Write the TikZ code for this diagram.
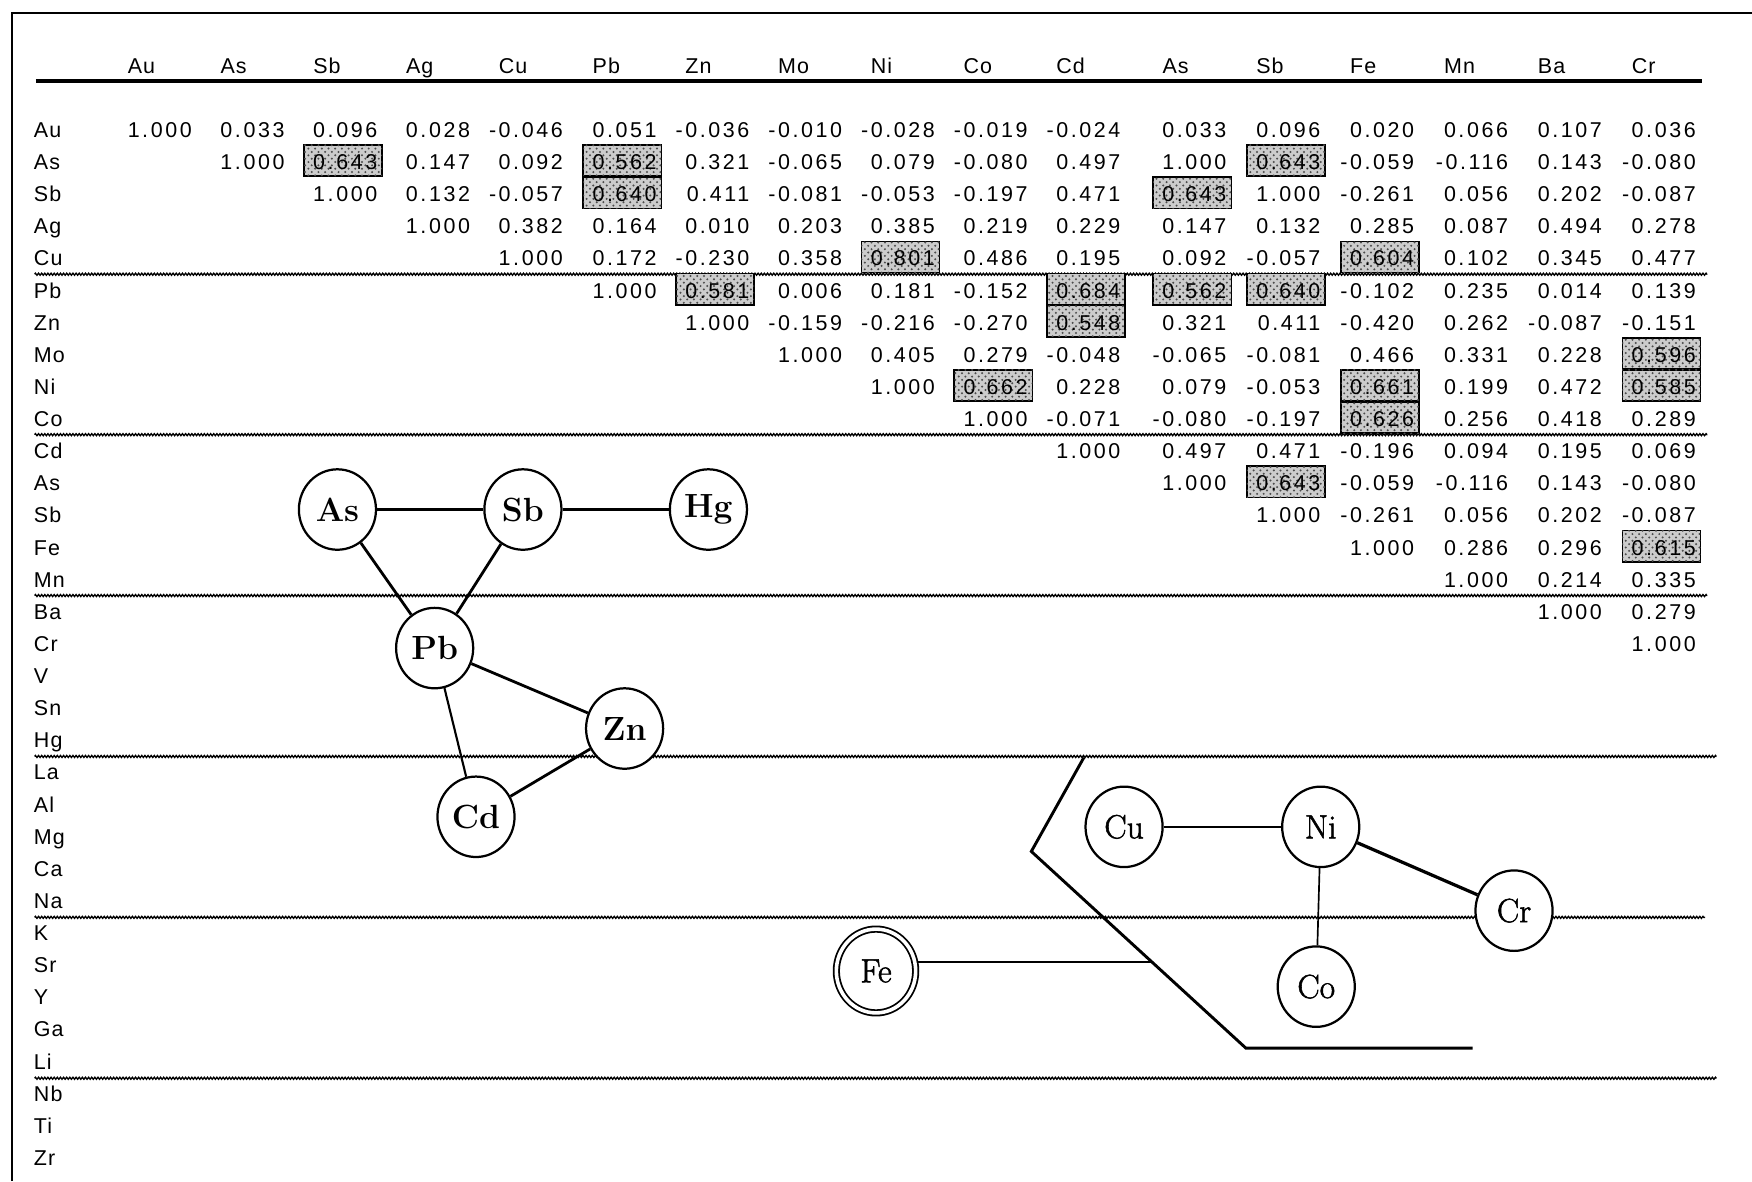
\documentclass[tikz,border=0pt]{standalone}
\usepackage{fontspec}
\usetikzlibrary{shapes.geometric,decorations.pathmorphing,patterns}
\newfontfamily\tabfont[LetterSpace=12]{Liberation Sans}
\newfontfamily\labfont[LetterSpace=5]{Liberation Sans}
\newfontfamily\medserif[FakeBold=1.6]{Latin Modern Roman}
\begin{document}
\begin{tikzpicture}[x=0.5pt,y=-0.5pt,
  num/.style={font=\tabfont\fontsize{9.6}{11}\selectfont, inner sep=0pt, anchor=base east},
  lbl/.style={font=\labfont\fontsize{9.6}{11}\selectfont, inner sep=0pt, anchor=base west},
  hlbox/.style={draw, line width=0.7pt, fill=gray!40, postaction={pattern=crosshatch dots, pattern color=black!70}, minimum width=35pt, minimum height=14pt, inner sep=0pt},
  wavy/.style={line width=0.6pt, decorate, decoration={zigzag, segment length=1.4pt, amplitude=0.45pt}},
  el/.style={draw, ellipse, line width=1pt, minimum width=34.5pt, minimum height=36pt, inner sep=0pt, fill=white},
  elb/.style={el, font=\bfseries\fontsize{15}{15}\selectfont},
  elr/.style={el, font=\medserif\fontsize{15}{15}\selectfont},
  fenode/.style={draw, ellipse, double, double distance=1.6pt, line width=0.8pt, minimum width=35.5pt, minimum height=37.5pt, inner sep=0pt, fill=white, font=\medserif\fontsize{15}{15}\selectfont},
  lk/.style={line width=1.25pt},
  lkm/.style={line width=0.95pt},
  lkt/.style={line width=0.75pt},
  lkx/.style={line width=1.45pt}
]
\useasboundingbox (0,0) rectangle (1568,1057);

% frame and header rule
\draw[line width=0.9pt] (10.5,1057) -- (10.5,11.5) -- (1568,11.5);
\draw[line width=1.8pt] (32,72.5) -- (1523,72.5);

% header labels
\foreach \h [count=\k from 0] in {Au,As,Sb,Ag,Cu,Pb,Zn,Mo,Ni,Co,Cd,As,Sb,Fe,Mn,Ba,Cr}{
  \pgfmathsetmacro\xr{{172,255,338,421,504,588,671,754,837,920,1003,1098,1182,1266,1350,1434,1518}[\k]}
  \node[lbl] (h-\k) at (\xr-58,66) {\h};
}

% row labels
\foreach \l [count=\r from 0] in {Au,As,Sb,Ag,Cu,Pb,Zn,Mo,Ni,Co,Cd,As,Sb,Fe,Mn,Ba,Cr,V,Sn,Hg,La,Al,Mg,Ca,Na,K,Sr,Y,Ga,Li,Nb,Ti,Zr}{
  \node[lbl] (r-\r) at (30,{116+28.75*\r+7}) {\l};
}

% wavy separators
\foreach \yy/\xe in {245.4/1528,389/1528,533/1528,677/1536,821/1526,965/1536}{
  \draw[wavy] (31,\yy) -- (\xe,\yy);
}

% highlighted cells
\foreach \r/\k in {1/2,1/5,2/5,4/8,4/13,5/6,5/10,5/11,5/12,6/10,7/16,8/9,8/13,8/16,9/13,2/11,1/12,11/12,13/16}{
  \pgfmathsetmacro\xr{{172,255,338,421,504,588,671,754,837,920,1003,1098,1182,1266,1350,1434,1518}[\k]}
  \node[hlbox] (b-\r-\k) at (\xr-31,{116+28.75*\r-1}) {};
}

% table values
\foreach \r/\s/\vals in {
 0/0/{1.000,0.033,0.096,0.028,-0.046,0.051,-0.036,-0.010,-0.028,-0.019,-0.024,0.033,0.096,0.020,0.066,0.107,0.036},
 1/1/{1.000,0.643,0.147,0.092,0.562,0.321,-0.065,0.079,-0.080,0.497,1.000,0.643,-0.059,-0.116,0.143,-0.080},
 2/2/{1.000,0.132,-0.057,0.640,0.411,-0.081,-0.053,-0.197,0.471,0.643,1.000,-0.261,0.056,0.202,-0.087},
 3/3/{1.000,0.382,0.164,0.010,0.203,0.385,0.219,0.229,0.147,0.132,0.285,0.087,0.494,0.278},
 4/4/{1.000,0.172,-0.230,0.358,0.801,0.486,0.195,0.092,-0.057,0.604,0.102,0.345,0.477},
 5/5/{1.000,0.581,0.006,0.181,-0.152,0.684,0.562,0.640,-0.102,0.235,0.014,0.139},
 6/6/{1.000,-0.159,-0.216,-0.270,0.548,0.321,0.411,-0.420,0.262,-0.087,-0.151},
 7/7/{1.000,0.405,0.279,-0.048,-0.065,-0.081,0.466,0.331,0.228,0.596},
 8/8/{1.000,0.662,0.228,0.079,-0.053,0.661,0.199,0.472,0.585},
 9/9/{1.000,-0.071,-0.080,-0.197,0.626,0.256,0.418,0.289},
 10/10/{1.000,0.497,0.471,-0.196,0.094,0.195,0.069},
 11/11/{1.000,0.643,-0.059,-0.116,0.143,-0.080},
 12/12/{1.000,-0.261,0.056,0.202,-0.087},
 13/13/{1.000,0.286,0.296,0.615},
 14/14/{1.000,0.214,0.335},
 15/15/{1.000,0.279},
 16/16/{1.000}}{
  \foreach \v [count=\k from \s] in \vals {
    \pgfmathsetmacro\xr{{172,255,338,421,504,588,671,754,837,920,1003,1098,1182,1266,1350,1434,1518}[\k]}
    \node[num] (v-\r-\k) at (\xr,{116+28.75*\r+7}) {\v};
  }
}

% partition line
\coordinate (p1) at (970,678);
\coordinate (p2) at (923,762);
\coordinate (p3) at (1115,938);
\coordinate (p4) at (1318,938);
\coordinate (cut) at (1031,861);
\draw[line width=1.3pt, line join=miter] (p1) -- (p2) -- (p3) -- (p4);

% element nodes
\node[elb] (As) at (302,456) {As};
\node[elb] (Sb) at (468,456) {Sb};
\node[elb] (Hg) at (634,456) {Hg};
\node[elb] (Pb) at (389,580) {Pb};
\node[elb] (Zn) at (559,652) {Zn};
\node[elb] (Cd) at (426,731) {Cd};
\node[elr] (Cu) at (1006,740) {Cu};
\node[elr] (Ni) at (1182,740) {Ni};
\node[elr] (Cr) at (1355,815) {Cr};
\node[elr] (Co) at (1178,883) {Co};
\node[fenode] (Fe) at (784,869) {Fe};

% connectors
\draw[lk] (As) -- (Sb);
\draw[lk] (Sb) -- (Hg);
\draw[lk] (As) -- (Pb);
\draw[lk] (Sb) -- (Pb);
\draw[lk] (Pb) -- (Zn);
\draw[lkm] (Pb) -- (Cd);
\draw[lk] (Zn) -- (Cd);
\draw[lkm] (Cu) -- (Ni);
\draw[lkx] (Ni) -- (Cr);
\draw[lkt] (Ni) -- (Co);
\draw[lk] (Fe.east |- cut) -- (cut);
\end{tikzpicture}
\end{document}
